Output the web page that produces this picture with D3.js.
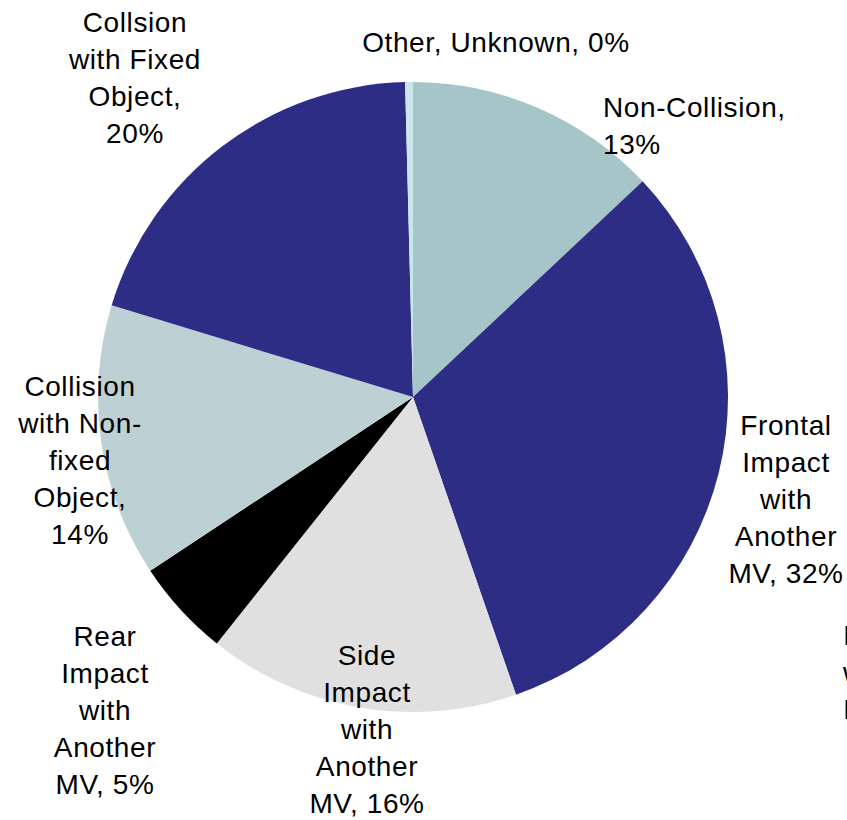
<!DOCTYPE html>
<html>
<head>
<meta charset="utf-8">
<script src="https://cdn.jsdelivr.net/npm/d3@7"></script>
<style>
  html, body { margin: 0; padding: 0; background: #fff; }
  svg { display: block; }
  text { font-family: "Liberation Sans", Arial, sans-serif; font-size: 28px; letter-spacing: 0.6px; fill: #000; }
</style>
</head>
<body>
<div id="chart"></div>
<script>
// slice order: clockwise from 12 o'clock
const categories = [
  'Non-Collision',
  'Frontal Impact with Another MV',
  'Side Impact with Another MV',
  'Rear Impact with Another MV',
  'Collision with Non-fixed Object',
  'Collision with Fixed Object',
  'Other, Unknown'
];
const shares = [13.0, 31.7, 16.0, 5.0, 14.0, 19.9, 0.4];
const pctLabels = ['13%', '32%', '16%', '5%', '14%', '20%', '0%'];
const labelLines = [
  ['Non-Collision,', '13%'],
  ['Frontal', 'Impact', 'with', 'Another', 'MV, 32%'],
  ['Side', 'Impact', 'with', 'Another', 'MV, 16%'],
  ['Rear', 'Impact', 'with', 'Another', 'MV, 5%'],
  ['Collision', 'with Non-', 'fixed', 'Object,', '14%'],
  ['Collsion', 'with Fixed', 'Object,', '20%'],
  ['Other, Unknown, 0%']
];

const colors = ['#a6c5c8', '#2d2d85', '#e0e0e0', '#000000', '#bdd0d4', '#2d2d85', '#c9e6ea'];

// label placement (anchor point of first line, alignment)
const labelPos = [
  {x: 603, y: 117, anchor: 'start'},
  {x: 786, y: 435, anchor: 'middle'},
  {x: 367, y: 665, anchor: 'middle'},
  {x: 105, y: 646, anchor: 'middle'},
  {x: 80, y: 396, anchor: 'middle'},
  {x: 135, y: 32, anchor: 'middle'},
  {x: 496, y: 52, anchor: 'middle'}
];

const width = 847, height = 820;
const cx = 413, cy = 397, radius = 315;
const lineH = 37;

const svg = d3.select('#chart').append('svg')
  .attr('width', width)
  .attr('height', height);

const pie = d3.pie().sort(null).value(d => d.v);
const arc = d3.arc().innerRadius(0).outerRadius(radius);

const data = categories.map((c, i) => ({name: c, v: shares[i], i}));

const g = svg.append('g').attr('transform', `translate(${cx},${cy})`);
g.selectAll('path.slice')
  .data(pie(data))
  .enter()
  .append('path')
  .attr('class', 'slice')
  .attr('d', arc)
  .attr('fill', d => colors[d.data.i]);

const labels = svg.selectAll('text.lbl')
  .data(data)
  .enter()
  .append('text')
  .attr('class', 'lbl')
  .attr('text-anchor', d => labelPos[d.i].anchor)
  .attr('x', d => labelPos[d.i].x)
  .attr('y', d => labelPos[d.i].y);

labels.selectAll('tspan')
  .data(d => labelLines[d.i].map(t => ({t, d})))
  .enter()
  .append('tspan')
  .attr('x', s => labelPos[s.d.i].x)
  .attr('dy', (s, j) => j === 0 ? 0 : lineH)
  .text(s => s.t);

// label of a slice that falls off the right edge (clipped, as in the source)
const offLines = ['Impact', 'with', 'Impact'];
svg.append('text')
  .attr('x', 843)
  .attr('y', 645)
  .selectAll('tspan')
  .data(offLines)
  .enter()
  .append('tspan')
  .attr('x', 843)
  .attr('dy', (d, j) => j === 0 ? 0 : lineH)
  .text(d => d);
</script>
</body>
</html>
